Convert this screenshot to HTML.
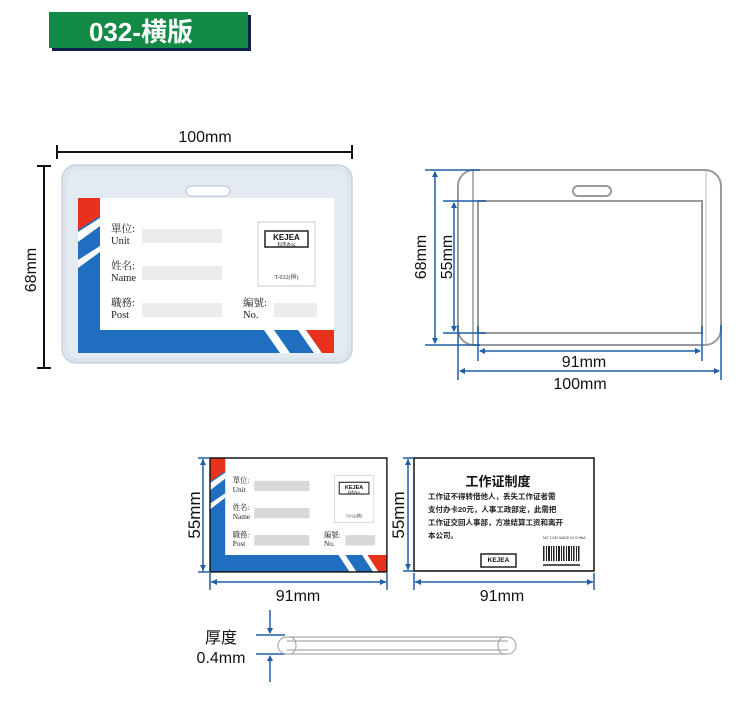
<!DOCTYPE html>
<html><head><meta charset="utf-8"><style>
html,body{margin:0;padding:0;background:#fff;}
svg{display:block;}
text{font-family:"Liberation Sans","Noto Sans CJK SC",sans-serif;}
.s{font-family:"Liberation Serif","Noto Serif CJK SC",serif;}
</style></head><body>
<svg width="750" height="708" viewBox="0 0 750 708" xmlns="http://www.w3.org/2000/svg">
<!-- title -->
<rect x="52" y="15" width="199" height="36" fill="#0d1f4a"/>
<rect x="49" y="12" width="199" height="36" fill="#138a45"/>
<text x="141" y="41" font-size="26" font-weight="bold" fill="#fff" text-anchor="middle">032-横版</text>

<!-- card 1 dims -->
<text x="205" y="142" font-size="16" text-anchor="middle" fill="#111">100mm</text>
<line x1="57" y1="152" x2="352" y2="152" stroke="#111" stroke-width="2"/>
<line x1="57" y1="145" x2="57" y2="159" stroke="#111" stroke-width="2"/>
<line x1="352" y1="145" x2="352" y2="159" stroke="#111" stroke-width="2"/>
<line x1="44" y1="166" x2="44" y2="368" stroke="#111" stroke-width="2"/>
<line x1="37" y1="166" x2="51" y2="166" stroke="#111" stroke-width="2"/>
<line x1="37" y1="368" x2="51" y2="368" stroke="#111" stroke-width="2"/>
<text transform="translate(36,270) rotate(-90)" font-size="16" text-anchor="middle" fill="#111">68mm</text>

<!-- holder -->
<rect x="62" y="165" width="290" height="198" rx="14" fill="#dde4ee" stroke="#c9d2df" stroke-width="1.5"/>
<rect x="67" y="170" width="280" height="188" rx="10" fill="#e4eaf2"/>
<rect x="186" y="186" width="44" height="10" rx="5" fill="#fff" stroke="#b8c2d0"/>

<!-- front card -->
<g transform="translate(78,198)">
  <rect x="0" y="0" width="256" height="155" fill="#1f6ec0"/>
  <rect x="22" y="0" width="234" height="132" fill="#fff"/>
  <polygon points="0,0 22,0 22,18 0,32" fill="#e8321e"/>
  <polygon points="0,34 22,20 22,28 0,44" fill="#fff"/>
  <polygon points="0,62 22,48 22,54 0,70" fill="#fff"/>
  <polygon points="186,132 196,132 212,155 202,155" fill="#fff"/>
  <polygon points="220,132 228,132 244,155 236,155" fill="#fff"/>
  <polygon points="228,132 256,132 256,155 244,155" fill="#e8321e"/>
  <g class="s" font-size="10.5" fill="#222">
    <text class="s" x="33" y="34">單位:</text><text class="s" x="33" y="46">Unit</text>
    <text class="s" x="33" y="71">姓名:</text><text class="s" x="33" y="83">Name</text>
    <text class="s" x="33" y="108">職務:</text><text class="s" x="33" y="120">Post</text>
    <text class="s" x="165" y="108">編號:</text><text class="s" x="165" y="120">No.</text>
  </g>
  <rect x="64" y="31" width="80" height="14" fill="#ececec"/>
  <rect x="64" y="68" width="80" height="14" fill="#ececec"/>
  <rect x="64" y="105" width="80" height="14" fill="#ececec"/>
  <rect x="196" y="105" width="43" height="14" fill="#ececec"/>
  <rect x="180" y="24" width="57" height="64" fill="#fff" stroke="#ccc"/>
  <rect x="187" y="33" width="43" height="16" fill="#fff" stroke="#222" stroke-width="1.5"/>
  <text x="208.5" y="42" font-size="8" font-weight="bold" text-anchor="middle" fill="#111">KEJEA</text>
  <text x="208.5" y="48" font-size="4.5" text-anchor="middle" fill="#111">科杰办公</text>
  <text class="s" x="208.5" y="81" font-size="6" text-anchor="middle" fill="#333">T-032(横)</text>
</g>

<!-- right outline diagram -->
<rect x="458" y="170" width="263" height="175" rx="16" fill="#fff" stroke="#999" stroke-width="2"/>
<line x1="473" y1="171" x2="473" y2="344" stroke="#999" stroke-width="1.5"/>
<line x1="706" y1="171" x2="706" y2="344" stroke="#bbb" stroke-width="1"/>
<rect x="478" y="201" width="224" height="132" fill="#fff" stroke="#999" stroke-width="2"/>
<rect x="573" y="186" width="38" height="10" rx="5" fill="#fff" stroke="#999" stroke-width="2"/>
<g stroke="#1f5fa8" stroke-width="1.5" fill="none">
  <line x1="425" y1="170" x2="480" y2="170"/>
  <line x1="425" y1="345" x2="480" y2="345"/>
  <line x1="435" y1="172" x2="435" y2="343"/>
  <line x1="443" y1="201" x2="486" y2="201"/>
  <line x1="443" y1="333" x2="486" y2="333"/>
  <line x1="454" y1="203" x2="454" y2="331"/>
  <line x1="478" y1="326" x2="478" y2="361"/>
  <line x1="702" y1="326" x2="702" y2="361"/>
  <line x1="480" y1="351" x2="700" y2="351"/>
  <line x1="458" y1="325" x2="458" y2="380"/>
  <line x1="721" y1="325" x2="721" y2="380"/>
  <line x1="460" y1="371" x2="719" y2="371"/>
</g>
<g fill="#1f5fa8">
  <polygon points="435,171 432,177 438,177"/><polygon points="435,344 432,338 438,338"/>
  <polygon points="454,202 451,208 457,208"/><polygon points="454,332 451,326 457,326"/>
  <polygon points="479,351 485,348 485,354"/><polygon points="701,351 695,348 695,354"/>
  <polygon points="459,371 465,368 465,374"/><polygon points="720,371 714,368 714,374"/>
</g>
<text transform="translate(426,257) rotate(-90)" font-size="16" text-anchor="middle" fill="#111">68mm</text>
<text transform="translate(452,257) rotate(-90)" font-size="16" text-anchor="middle" fill="#111">55mm</text>
<text x="584" y="367" font-size="16" text-anchor="middle" fill="#111">91mm</text>
<text x="580" y="389" font-size="16" text-anchor="middle" fill="#111">100mm</text>

<!-- bottom small front -->
<g transform="translate(210,458) scale(0.691,0.735)">
  <rect x="0" y="0" width="256" height="155" fill="#1f6ec0"/>
  <rect x="22" y="0" width="234" height="132" fill="#fff"/>
  <polygon points="0,0 22,0 22,18 0,32" fill="#e8321e"/>
  <polygon points="0,34 22,20 22,28 0,44" fill="#fff"/>
  <polygon points="0,62 22,48 22,54 0,70" fill="#fff"/>
  <polygon points="186,132 196,132 212,155 202,155" fill="#fff"/>
  <polygon points="220,132 228,132 244,155 236,155" fill="#fff"/>
  <polygon points="228,132 256,132 256,155 244,155" fill="#e8321e"/>
  <g font-size="10.5" fill="#222">
    <text class="s" x="33" y="34">單位:</text><text class="s" x="33" y="46">Unit</text>
    <text class="s" x="33" y="71">姓名:</text><text class="s" x="33" y="83">Name</text>
    <text class="s" x="33" y="108">職務:</text><text class="s" x="33" y="120">Post</text>
    <text class="s" x="165" y="108">編號:</text><text class="s" x="165" y="120">No.</text>
  </g>
  <rect x="64" y="31" width="80" height="14" fill="#d8d8d8"/>
  <rect x="64" y="68" width="80" height="14" fill="#d8d8d8"/>
  <rect x="64" y="105" width="80" height="14" fill="#d8d8d8"/>
  <rect x="196" y="105" width="43" height="14" fill="#d8d8d8"/>
  <rect x="180" y="24" width="57" height="64" fill="#fff" stroke="#ccc"/>
  <rect x="187" y="33" width="43" height="16" fill="#fff" stroke="#222" stroke-width="1.5"/>
  <text x="208.5" y="42" font-size="8" font-weight="bold" text-anchor="middle" fill="#111">KEJEA</text>
  <text x="208.5" y="48" font-size="4.5" text-anchor="middle" fill="#111">科杰办公</text>
  <text class="s" x="208.5" y="81" font-size="6" text-anchor="middle" fill="#333">T-032(横)</text>
  <rect x="0" y="0" width="256" height="155" fill="none" stroke="#111" stroke-width="2"/>
</g>

<!-- bottom back card -->
<rect x="414" y="458" width="180" height="113" fill="#fff" stroke="#111" stroke-width="1.5"/>
<text x="498" y="486" font-size="13" font-weight="bold" text-anchor="middle" fill="#111">工作证制度</text>
<g font-size="7.5" font-weight="bold" fill="#222">
  <text x="428" y="499">工作证不得转借他人，丢失工作证者需</text>
  <text x="428" y="512">支付办卡20元，人事工政部定，此需把</text>
  <text x="428" y="525">工作证交回人事部，方准结算工资和离开</text>
  <text x="428" y="538">本公司。</text>
</g>
<rect x="481" y="554" width="35" height="13" fill="#fff" stroke="#222" stroke-width="1.5"/>
<text x="498.5" y="562" font-size="6.5" font-weight="bold" text-anchor="middle" fill="#111">KEJEA</text>
<text x="543" y="539" font-size="3.5" fill="#333">NO.T-032 MADE IN CHINA</text>
<g fill="#222">
  <rect x="543" y="546" width="1.5" height="15"/><rect x="546" y="546" width="1" height="15"/><rect x="548" y="546" width="2" height="15"/><rect x="551" y="546" width="1" height="15"/><rect x="553" y="546" width="1.5" height="15"/><rect x="556" y="546" width="1" height="15"/><rect x="558" y="546" width="2" height="15"/><rect x="561" y="546" width="1" height="15"/><rect x="563" y="546" width="1.5" height="15"/><rect x="566" y="546" width="1" height="15"/><rect x="568" y="546" width="2" height="15"/><rect x="571" y="546" width="1" height="15"/><rect x="573" y="546" width="1.5" height="15"/><rect x="576" y="546" width="1" height="15"/><rect x="578" y="546" width="1.5" height="15"/>
  <rect x="543" y="564" width="37" height="2" fill="#555"/>
</g>

<!-- bottom dims -->
<g stroke="#1f5fa8" stroke-width="1.5" fill="none">
  <line x1="203" y1="459" x2="203" y2="571"/>
  <line x1="198" y1="458" x2="210" y2="458"/><line x1="198" y1="572" x2="210" y2="572"/>
  <line x1="210" y1="573" x2="210" y2="590"/><line x1="387" y1="573" x2="387" y2="590"/>
  <line x1="211" y1="582" x2="386" y2="582"/>
  <line x1="408" y1="459" x2="408" y2="570"/>
  <line x1="403" y1="458" x2="414" y2="458"/><line x1="403" y1="571" x2="414" y2="571"/>
  <line x1="414" y1="573" x2="414" y2="590"/><line x1="594" y1="573" x2="594" y2="590"/>
  <line x1="415" y1="582" x2="593" y2="582"/>
</g>
<g fill="#1f5fa8">
  <polygon points="203,459 200,465 206,465"/><polygon points="203,571 200,565 206,565"/>
  <polygon points="211,582 217,579 217,585"/><polygon points="386,582 380,579 380,585"/>
  <polygon points="408,459 405,465 411,465"/><polygon points="408,570 405,564 411,564"/>
  <polygon points="415,582 421,579 421,585"/><polygon points="593,582 587,579 587,585"/>
</g>
<text transform="translate(200,515) rotate(-90)" font-size="17" text-anchor="middle" fill="#111">55mm</text>
<text transform="translate(404,515) rotate(-90)" font-size="17" text-anchor="middle" fill="#111">55mm</text>
<text x="298" y="601" font-size="16" text-anchor="middle" fill="#111">91mm</text>
<text x="502" y="601" font-size="16" text-anchor="middle" fill="#111">91mm</text>

<!-- thickness -->
<g stroke="#1f5fa8" stroke-width="1.5" fill="none">
  <line x1="270" y1="610" x2="270" y2="633"/>
  <line x1="270" y1="657" x2="270" y2="682"/>
  <line x1="256" y1="635" x2="285" y2="635"/>
  <line x1="256" y1="654" x2="285" y2="654"/>
</g>
<polygon points="270,634 267,628 273,628" fill="#1f5fa8"/>
<polygon points="270,655 267,661 273,661" fill="#1f5fa8"/>
<g stroke="#aaa" stroke-width="1.2" fill="none">
  <rect x="278" y="637" width="238" height="17" rx="8.5"/>
  <line x1="287" y1="641" x2="508" y2="641"/>
  <line x1="287" y1="650" x2="508" y2="650"/>
  <path d="M290,637 a6,8.5 0 0 1 0,17"/>
  <path d="M504,637 a6,8.5 0 0 0 0,17"/>
</g>
<text x="221" y="643" font-size="16" text-anchor="middle" fill="#111">厚度</text>
<text x="221" y="663" font-size="16" text-anchor="middle" fill="#111">0.4mm</text>
</svg>
</body></html>
